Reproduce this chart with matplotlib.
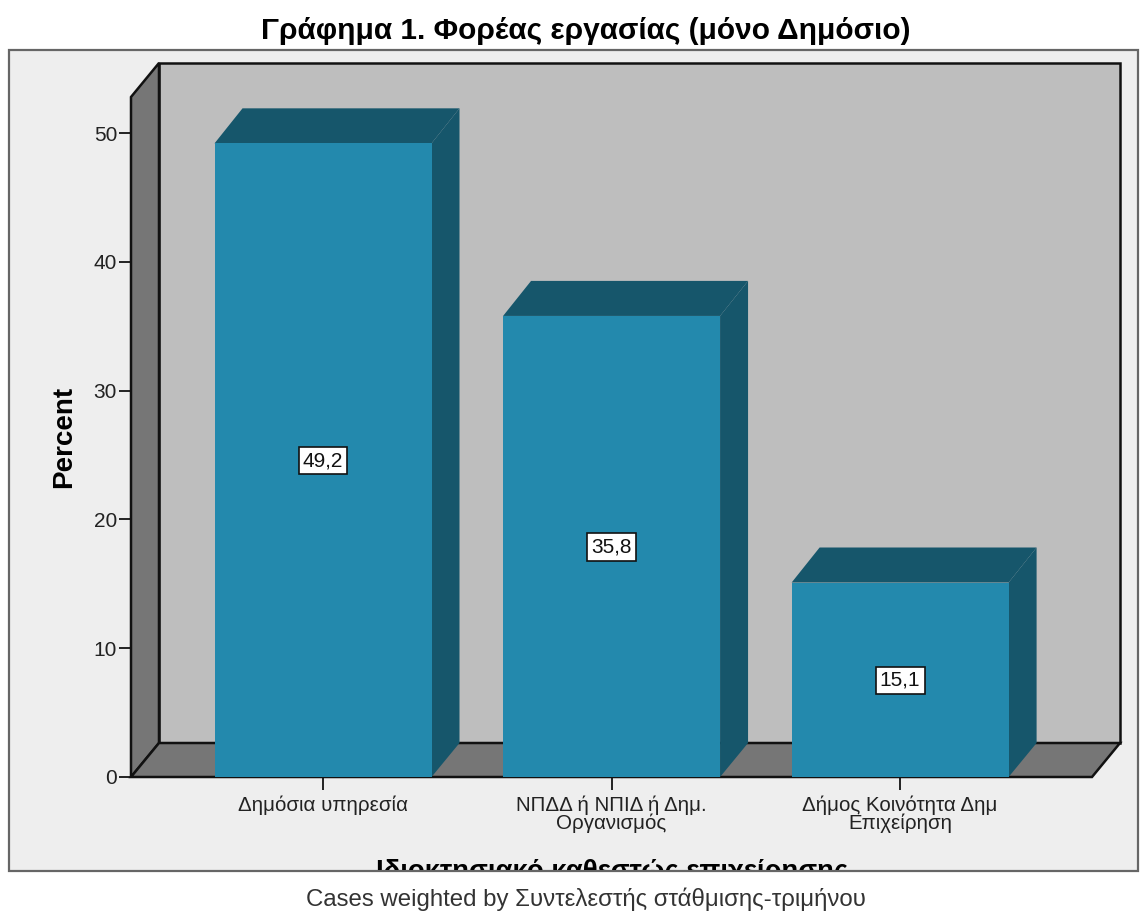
import matplotlib
matplotlib.use('Agg')
import matplotlib.pyplot as plt
from matplotlib.patches import Polygon, Rectangle

plt.rcParams['font.family'] = ['Liberation Sans', 'DejaVu Sans']

categories = ['Δημόσια υπηρεσία', 'ΝΠΔΔ ή ΝΠΙΔ ή Δημ.\nΟργανισμός', 'Δήμος Κοινότητα Δημ\nΕπιχείρηση']
values = [49.2, 35.8, 15.1]
y_ticks = [0, 10, 20, 30, 40, 50]

W, H = 1148, 913
FRONT = '#2389AD'
DARK = '#16566B'
WALL = '#767676'
BACK = '#BEBEBE'
PANEL = '#EEEEEE'

# 3d look: offset of the back plane, in data units
dx = 0.097
dy = 2.64
bar_dy = 2.72
bar_w = 0.752
x0, x1 = -0.6655, 2.665
y1 = 52.8


def fx(px):
    return px / W


def fy(px):
    return 1 - px / H


def poly(ax, pts, color, edge='none', lw=0, z=1):
    ax.add_patch(Polygon(pts, closed=True, facecolor=color, edgecolor=edge, linewidth=lw, zorder=z, clip_on=False))


fig = plt.figure(figsize=(W / 100, H / 100), dpi=100, facecolor='white')
panel = Rectangle((fx(9), fy(871)), fx(1138) - fx(9), fy(50) - fy(871), transform=fig.transFigure,
                  facecolor=PANEL, edgecolor='#666666', linewidth=1.6, zorder=-1)
fig.add_artist(panel)

ax = fig.add_axes([fx(131), fy(777), fx(1092) - fx(131), fy(97) - fy(777)])
ax.patch.set_alpha(0)
ax.set_xlim(x0, x1)
ax.set_ylim(0, y1)
for s in ax.spines.values():
    s.set_visible(False)

# walls and floor
poly(ax, [(x0 + dx, dy), (x1 + dx, dy), (x1 + dx, y1 + dy), (x0 + dx, y1 + dy)], BACK, '#111111', 1.8, 1)
poly(ax, [(x0, 0), (x0 + dx, dy), (x0 + dx, y1 + dy), (x0, y1)], WALL, '#111111', 1.8, 2)
poly(ax, [(x0, 0), (x1, 0), (x1 + dx, dy), (x0 + dx, dy)], WALL, '#111111', 1.8, 2)

# bars, drawn from the values
for i, v in enumerate(values):
    l = i - bar_w / 2
    r = i + bar_w / 2
    poly(ax, [(l, v), (r, v), (r + dx, v + bar_dy), (l + dx, v + bar_dy)], DARK, z=3)
    poly(ax, [(r, 0), (r + dx, dy), (r + dx, v + bar_dy), (r, v)], DARK, z=3)
    poly(ax, [(l, 0), (r, 0), (r, v), (l, v)], FRONT, z=4)
    ax.text(i, v / 2 - 0.05, f'{v:.1f}'.replace('.', ','), ha='center', va='center', fontsize=15, color='#111111', zorder=6,
            bbox=dict(boxstyle='square,pad=0.2', facecolor='white', edgecolor='#111111', linewidth=1.2))

ax.set_yticks(y_ticks)
ax.set_xticks(range(len(categories)))
ax.set_xticklabels(categories, fontsize=14.8, color='#222222', linespacing=0.95)
ax.tick_params(axis='y', length=9, width=1.4, labelsize=15, pad=1, colors='#222222')
ax.tick_params(axis='x', length=9, width=1.4, pad=4, colors='#222222')
ax.set_ylabel('Percent', fontsize=20, fontweight='bold', labelpad=0)
ax.yaxis.set_label_coords((77 - 131) / (1092 - 131), (777 - 437) / (777 - 97))

fig.text(fx(586), fy(31), 'Γράφημα 1. Φορέας εργασίας (μόνο Δημόσιο)', ha='center', va='center',
         fontsize=21.5, fontweight='bold')

# the axis title is cut off by the panel edge in the original
xt = fig.text(fx(612), fy(879), 'Ιδιοκτησιακό καθεστώς επιχείρησης', ha='center', va='baseline',
              fontsize=19.8, fontweight='bold')
xt.set_clip_path(Rectangle((0, fy(870)), 1, 1, transform=fig.transFigure))
xt.set_clip_on(True)

fig.text(fx(586), fy(899), 'Cases weighted by Συντελεστής στάθμισης-τριμήνου', ha='center', va='center',
         fontsize=17.3, color='#333333')

fig.savefig('out.png', dpi=100)
